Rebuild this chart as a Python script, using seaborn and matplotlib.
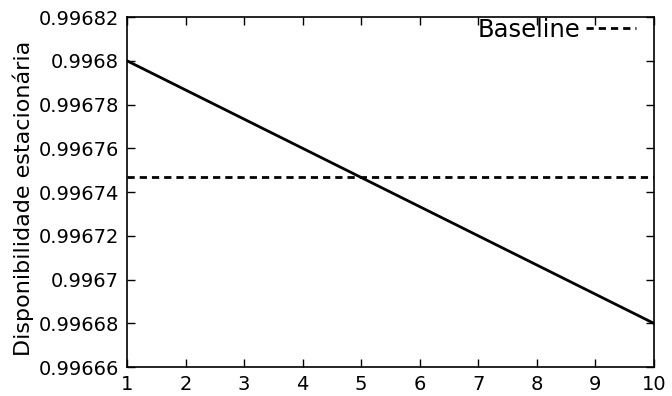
import numpy as np
import pandas as pd
import matplotlib
matplotlib.use('Agg')
import matplotlib.pyplot as plt
import seaborn as sns

# Dados
x_vals = [1, 10]
disponibilidade = [0.99680, 0.99668]
baseline = 0.996747
yticks = [0.99666, 0.99668, 0.99670, 0.99672, 0.99674,
          0.99676, 0.99678, 0.99680, 0.99682]
ytick_labels = ['0.99666', '0.99668', '0.9967', '0.99672', '0.99674',
                '0.99676', '0.99678', '0.9968', '0.99682']

sns.set_style('ticks')
plt.rcParams['font.family'] = ['DejaVu Sans']
plt.rcParams.update({'text.color': 'black', 'axes.labelcolor': 'black',
                     'xtick.color': 'black', 'ytick.color': 'black',
                     'axes.edgecolor': 'black'})

df = pd.DataFrame({'x': x_vals, 'y': disponibilidade})

fig, ax = plt.subplots(figsize=(6.72, 3.96), dpi=100)
fig.subplots_adjust(left=0.189, right=0.973, top=0.957, bottom=0.073)

sns.lineplot(data=df, x='x', y='y', ax=ax, color='black', lw=2.0)
ax.axhline(baseline, color='black', lw=2.0, ls=(0, (2.6, 1.8)), label='Baseline')

ax.set_xlim(1, 10)
ax.set_ylim(yticks[0], yticks[-1])
ax.set_xticks(np.arange(1, 11))
ax.set_yticks(yticks)
ax.set_yticklabels(ytick_labels)
ax.tick_params(direction='in', length=5.5, width=1, labelsize=14,
               top=True, right=True, pad=6)
for s in ax.spines.values():
    s.set_linewidth(1.2)

ax.set_xlabel('')
ax.set_ylabel('Disponibilidade estacionária', fontsize=16)
ax.yaxis.set_label_coords(34 / 672, 0.5, transform=fig.transFigure)

ax.legend(loc='center right', bbox_to_anchor=(636 / 672, 1 - 30 / 396),
          bbox_transform=fig.transFigure, frameon=False, fontsize=17.5,
          markerfirst=False, handlelength=2.05, borderaxespad=0.0,
          borderpad=0.0, handletextpad=0.25)

plt.savefig('out.png', dpi=100)
